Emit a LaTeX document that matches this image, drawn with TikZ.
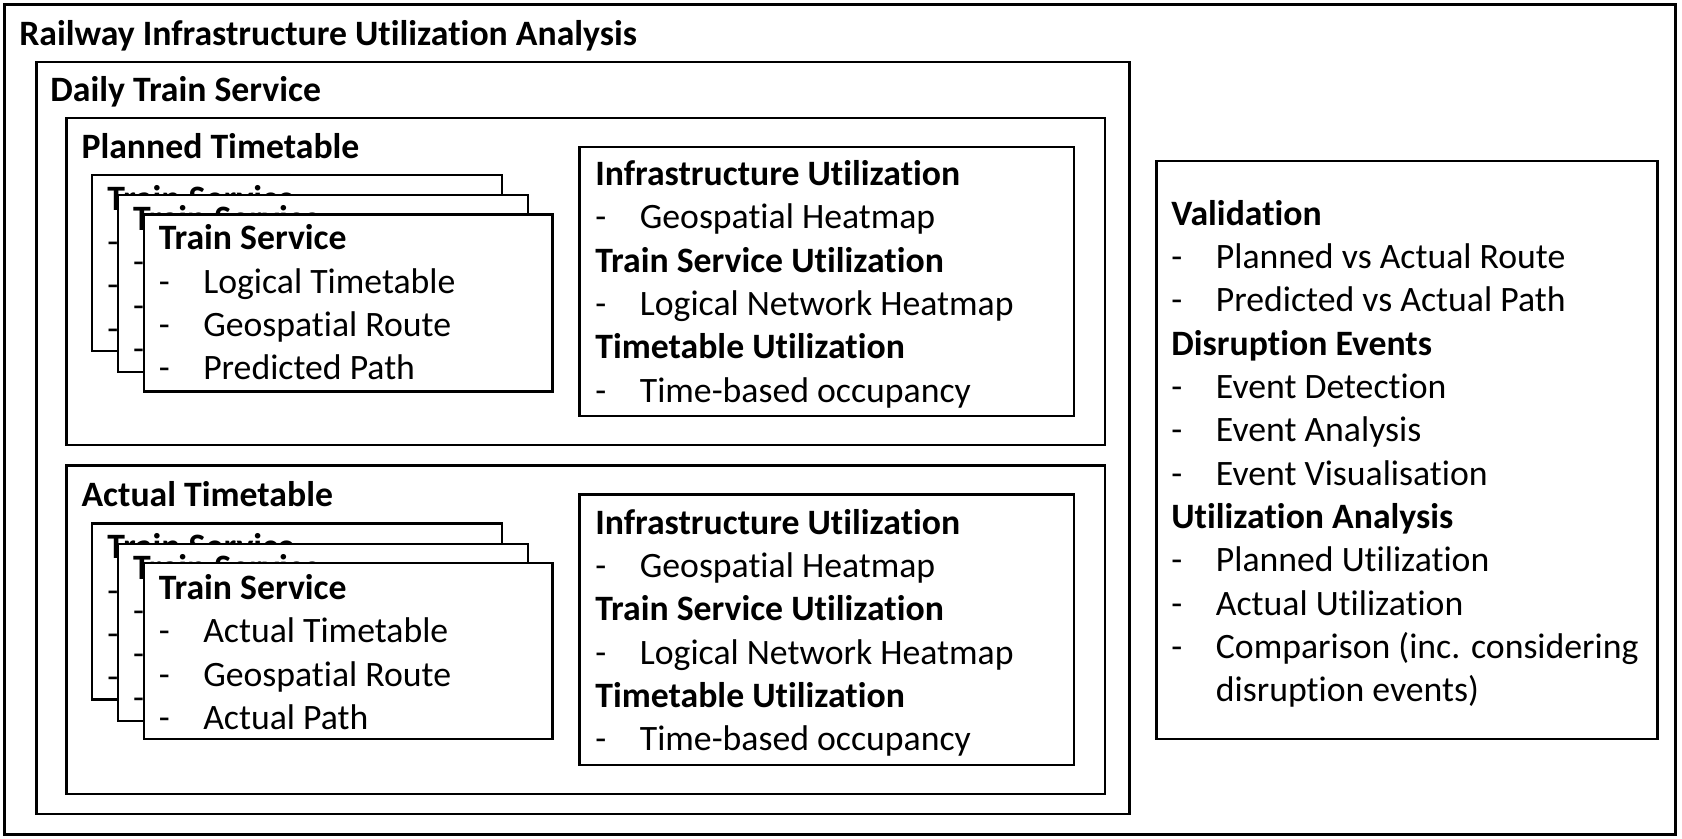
\documentclass[tikz,border=0pt]{standalone}
\usepackage{fontspec}
\setmainfont{Carlito}[Ligatures=NoCommon]
\newcommand\itm[1]{\makebox[20.75pt][l]{-}#1}
\newcommand\lines[1]{\begin{tabular}[t]{@{}l@{}}#1\end{tabular}}
\newcommand\plannedtrain{\lines{\textbf{Train Service}\\\itm{Logical Timetable}\\\itm{Geospatial Route}\\\itm{Predicted Path}}}
\newcommand\actualtrain{\lines{\textbf{Train Service}\\\itm{Actual Timetable}\\\itm{Geospatial Route}\\\itm{Actual Path}}}
\newcommand\utiltext{\lines{\textbf{Infrastructure Utilization}\\\itm{Geospatial Heatmap}\\\textbf{Train Service Utilization}\\\itm{Logical Network Heatmap}\\\textbf{Timetable Utilization}\\\itm{Time-based occupancy}}}
\begin{document}
\begin{tikzpicture}[x=0.5pt,y=-0.5pt,
  frame/.style={draw=black,line width=1.15pt,fill=white},
  txt/.style={anchor=base west,inner sep=0pt,outer sep=0pt,
    font=\fontsize{16.65pt}{20.2pt}\selectfont}]
\useasboundingbox (0,0) rectangle (1568,782);
% outer
\draw[frame] (4,4) rectangle (1562,778);
\node[txt] (title) at (18,42) {\textbf{Railway Infrastructure Utilization Analysis}};
% daily
\draw[frame] (34,58) rectangle (1053,759);
\node[txt] (daily) at (47,95) {\textbf{Daily Train Service}};
% planned
\draw[frame] (62,110) rectangle (1030,415);
\node[txt] (planned) at (76,148) {\textbf{Planned Timetable}};
\draw[frame] (86,163) rectangle (468,327);
\node[txt] (pts1) at (100,196) {\plannedtrain};
\draw[frame] (110,182) rectangle (492,347);
\node[txt] (pts2) at (124,215) {\plannedtrain};
\draw[frame] (134,200) rectangle (515,365);
\node[txt] (pts3) at (148,233) {\plannedtrain};
\draw[frame] (540,137) rectangle (1001,388);
\node[txt] (putil) at (555,173) {\utiltext};
% actual
\draw[frame] (62,434) rectangle (1030,740);
\node[txt] (actual) at (76,472) {\textbf{Actual Timetable}};
\draw[frame] (86,488) rectangle (468,652);
\node[txt] (ats1) at (100,521) {\actualtrain};
\draw[frame] (110,507) rectangle (492,672);
\node[txt] (ats2) at (124,540) {\actualtrain};
\draw[frame] (134,525) rectangle (515,689);
\node[txt] (ats3) at (148,559) {\actualtrain};
\draw[frame] (540,461) rectangle (1001,713);
\node[txt] (autil) at (555,498) {\utiltext};
% right
\draw[frame] (1078,150) rectangle (1545,689);
\node[txt] (valid) at (1092,210) {\lines{\textbf{Validation}\\\itm{Planned vs Actual Route}\\\itm{Predicted vs Actual Path}\\\textbf{Disruption Events}\\\itm{Event Detection}\\\itm{Event Analysis}\\\itm{Event Visualisation}\\\textbf{Utilization Analysis}\\\itm{Planned Utilization}\\\itm{Actual Utilization}\\\itm{Comparison (inc. considering}\\\hspace*{20.75pt}disruption events)}};
\end{tikzpicture}
\end{document}
